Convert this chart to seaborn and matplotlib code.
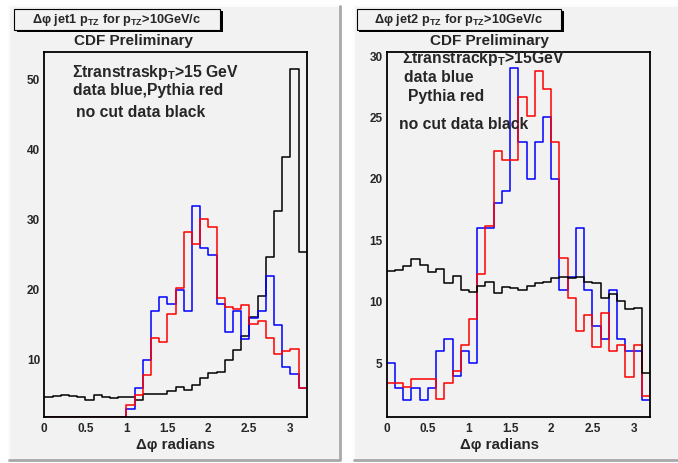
import numpy as np
import pandas as pd
import matplotlib
matplotlib.use("Agg")
import matplotlib.pyplot as plt
import seaborn as sns
from matplotlib.patches import Rectangle
from matplotlib.lines import Line2D
from matplotlib.ticker import MultipleLocator, FormatStrFormatter

# 32 bins of 0.1 rad from 0 to 3.2
centers = np.round(np.arange(0.05, 3.2, 0.1), 2)

# jet1 panel
jet1_nocut = [4.75, 4.9, 5.0, 4.85, 4.75, 4.3, 5.0, 4.65, 4.5, 4.65,
              4.75, 4.3, 5.1, 5.2, 5.1, 5.5, 6.2, 5.7, 6.4, 7.4,
              8.1, 8.3, 10.0, 11.4, 13.4, 16.1, 19.1, 24.7, 31.2, 38.9,
              51.6, 25.4]
jet1_data = [0, 0, 0, 0, 0, 0, 0, 0, 0, 0,
             3, 6, 10, 17, 19, 18, 20, 17, 32, 26,
             25, 18, 14, 17, 13, 16, 17, 22, 15, 9,
             8, 6]
jet1_pythia = [0, 0, 0, 0, 0, 0, 0, 0, 0, 0,
               3.5, 5.0, 7.9, 13.1, 12.6, 16.5, 20.3, 28.3, 26.5, 30.1,
               29.0, 18.9, 17.6, 17.3, 17.8, 15.2, 15.5, 13.1, 10.8, 11.3,
               11.5, 6.0]

# jet2 panel
jet2_data = [5, 3, 2, 3, 2, 3, 6, 7, 4, 6,
             5, 16, 16, 18, 19, 29, 23, 20, 23, 25,
             20, 11, 12, 16, 11, 8, 7, 11, 7, 6,
             6, 2]
jet2_pythia = [3.4, 3.4, 3.1, 3.7, 3.7, 3.7, 2.1, 3.4, 4.4, 6.5,
               8.6, 12.3, 16.2, 22.3, 21.5, 21.5, 26.7, 25.1, 28.8, 27.3,
               23.0, 13.6, 10.3, 7.6, 8.9, 6.3, 9.1, 6.0, 6.5, 3.9,
               6.5, 2.3]
jet2_nocut = [12.5, 12.6, 12.9, 13.5, 13.0, 12.4, 12.7, 11.5, 12.1, 11.0,
              10.8, 11.3, 11.6, 10.7, 11.2, 11.1, 11.0, 11.3, 11.5, 11.6,
              11.9, 12.0, 11.9, 12.0, 11.6, 11.5, 10.3, 10.6, 10.1, 9.4,
              9.5, 4.2]

W, H = 678, 463
PAD = "#f2f2f2"

sns.set_style("white")
plt.rcParams["font.family"] = ["Liberation Sans", "DejaVu Sans"]
plt.rcParams["font.weight"] = "bold"
plt.rcParams["mathtext.fontset"] = "custom"
plt.rcParams["mathtext.rm"] = "Liberation Sans:bold"
plt.rcParams["mathtext.it"] = "Liberation Sans:bold"
plt.rcParams["mathtext.bf"] = "Liberation Sans:bold"

fig = plt.figure(figsize=(W / 100, H / 100), dpi=100)
fig.patch.set_facecolor("white")


def fx(px):
    return px / W


def fy(py):
    return 1 - py / H


def pad_frame(x0, x1, y0, y1):
    fig.add_artist(Rectangle((fx(x0), fy(y1)), fx(x1 - x0), (y1 - y0) / H,
                             facecolor=PAD, edgecolor="none", zorder=0))
    fig.add_artist(Line2D([fx(x0), fx(x0), fx(x1)], [fy(y1), fy(y0), fy(y0)],
                          color="#fbfbfb", lw=1.5, zorder=0.5))
    fig.add_artist(Line2D([fx(x0), fx(x1), fx(x1)], [fy(y1), fy(y1), fy(y0)],
                          color="#a8a8a8", lw=2, zorder=0.5))


def title_box(x0, x1, y0, y1, text):
    # shadow then box
    fig.add_artist(Rectangle((fx(x0 + 2.5), fy(y1 + 2)), fx(x1 - x0), (y1 - y0) / H,
                             facecolor="black", edgecolor="none", zorder=1))
    fig.add_artist(Rectangle((fx(x0), fy(y1)), fx(x1 - x0), (y1 - y0) / H,
                             facecolor=PAD, edgecolor="black", lw=0.8, zorder=2))
    fig.text(fx((x0 + x1) / 2), fy((y0 + y1) / 2 + 1), text, ha="center",
             va="center", fontsize=9.2, zorder=3)


pad_frame(9, 340, 6, 460)
pad_frame(354, 679, 6, 460)


def hist(ax, vals, color, lo):
    df = pd.DataFrame({"dphi": centers, "n": np.clip(vals, lo, None)})
    sns.histplot(data=df, x="dphi", weights="n", binwidth=0.1, binrange=(0, 3.2),
                 element="step", fill=False, color=color, linewidth=1.1, ax=ax)


def style_axes(ax, ylim, ymajor, yminor):
    ax.set_xlim(0, 3.2)
    ax.set_ylim(*ylim)
    ax.set_facecolor(PAD)
    ax.xaxis.set_major_locator(MultipleLocator(0.5))
    ax.xaxis.set_minor_locator(MultipleLocator(0.1))
    ax.yaxis.set_major_locator(MultipleLocator(ymajor))
    ax.yaxis.set_minor_locator(MultipleLocator(yminor))
    ax.xaxis.set_major_formatter(FormatStrFormatter("%g"))
    ax.tick_params(axis="x", which="major", direction="in", length=7.5, width=1, labelsize=8.5, pad=4.5)
    ax.tick_params(axis="x", which="minor", direction="in", length=4, width=1)
    ax.tick_params(axis="y", which="major", direction="in", length=5.5, width=1, labelsize=8.5, pad=3)
    ax.tick_params(axis="y", which="minor", direction="in", length=3, width=1)
    for s in ax.spines.values():
        s.set_visible(True)
        s.set_linewidth(1.3)
        s.set_color("black")
    ax.set_xlabel("")
    ax.set_ylabel("")


# left panel: jet1
ax1 = fig.add_axes([fx(44.3), fy(416.7), fx(306.7 - 44.3), (416.7 - 51.7) / H])
lim1 = (1.9, 54.0)
hist(ax1, jet1_nocut, "black", lim1[0])
hist(ax1, jet1_data, "#0000ff", lim1[0])
hist(ax1, jet1_pythia, "#ff0000", lim1[0])
style_axes(ax1, lim1, 10, 2)

# right panel: jet2
ax2 = fig.add_axes([fx(386.7), fy(416.7), fx(650 - 386.7), (416.7 - 51.7) / H])
lim2 = (0.65, 30.35)
hist(ax2, jet2_data, "#0000ff", lim2[0])
hist(ax2, jet2_pythia, "#ff0000", lim2[0])
hist(ax2, jet2_nocut, "black", lim2[0])
style_axes(ax2, lim2, 5, 1)

# titles and labels
title_box(14, 220, 9, 30, "\u0394\u03c6 jet1 p$_{TZ}$ for p$_{TZ}$>10GeV/c")
title_box(357, 561, 9, 30, "\u0394\u03c6 jet2 p$_{TZ}$ for p$_{TZ}$>10GeV/c")
fig.text(fx(133), fy(40.5), "CDF Preliminary", ha="center", va="center", fontsize=11)
fig.text(fx(490), fy(40.5), "CDF Preliminary", ha="center", va="center", fontsize=11)

fs = 11.3
fig.text(fx(71.5), fy(73), "\u03a3transtraskp$_T$>15 GeV", va="center", fontsize=fs)
fig.text(fx(73), fy(90.5), "data blue,Pythia red", va="center", fontsize=fs)
fig.text(fx(75.5), fy(112.5), "no cut data black", va="center", fontsize=fs)

fig.text(fx(401.5), fy(58.5), "\u03a3transtrackp$_T$>15GeV", va="center", fontsize=fs)
fig.text(fx(404), fy(77.5), "data blue", va="center", fontsize=fs)
fig.text(fx(408.5), fy(96), "Pythia red", va="center", fontsize=fs)
fig.text(fx(399), fy(124.5), "no cut data black", va="center", fontsize=fs)

fig.text(fx(176), fy(445), "\u0394\u03c6 radians", ha="center", va="center", fontsize=10.8)
fig.text(fx(499), fy(445), "\u0394\u03c6 radians", ha="center", va="center", fontsize=10.8)

fig.savefig("out.png", dpi=100, facecolor=fig.get_facecolor())
